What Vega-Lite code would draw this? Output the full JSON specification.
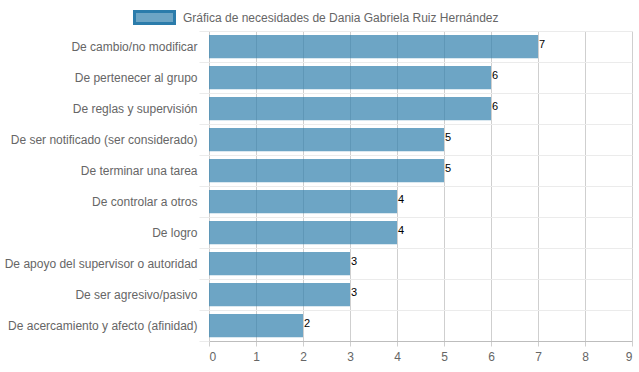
{
  "$schema": "https://vega.github.io/schema/vega-lite/v6.json",
  "width": 423,
  "height": 310,
  "autosize": {"type": "none"},
  "padding": {"left": 209, "top": 31, "right": 7, "bottom": 31},
  "background": "white",
  "config": {
    "font": "Liberation Sans",
    "view": {"stroke": null}
  },
  "data": {
    "values": [
      {"necesidad": "De cambio/no modificar", "valor": 7, "serie": "Gráfica de necesidades de Dania Gabriela Ruiz Hernández"},
      {"necesidad": "De pertenecer al grupo", "valor": 6, "serie": "Gráfica de necesidades de Dania Gabriela Ruiz Hernández"},
      {"necesidad": "De reglas y supervisión", "valor": 6, "serie": "Gráfica de necesidades de Dania Gabriela Ruiz Hernández"},
      {"necesidad": "De ser notificado (ser considerado)", "valor": 5, "serie": "Gráfica de necesidades de Dania Gabriela Ruiz Hernández"},
      {"necesidad": "De terminar una tarea", "valor": 5, "serie": "Gráfica de necesidades de Dania Gabriela Ruiz Hernández"},
      {"necesidad": "De controlar a otros", "valor": 4, "serie": "Gráfica de necesidades de Dania Gabriela Ruiz Hernández"},
      {"necesidad": "De logro", "valor": 4, "serie": "Gráfica de necesidades de Dania Gabriela Ruiz Hernández"},
      {"necesidad": "De apoyo del supervisor o autoridad", "valor": 3, "serie": "Gráfica de necesidades de Dania Gabriela Ruiz Hernández"},
      {"necesidad": "De ser agresivo/pasivo", "valor": 3, "serie": "Gráfica de necesidades de Dania Gabriela Ruiz Hernández"},
      {"necesidad": "De acercamiento y afecto (afinidad)", "valor": 2, "serie": "Gráfica de necesidades de Dania Gabriela Ruiz Hernández"}
    ]
  },
  "encoding": {
    "y": {
      "field": "necesidad",
      "type": "nominal",
      "sort": null,
      "scale": {"paddingInner": 0, "paddingOuter": 0},
      "axis": {
        "title": null,
        "grid": true,
        "gridColor": "#ebebeb",
        "bandPosition": 0,
        "domain": false,
        "ticks": true,
        "tickSize": 10,
        "tickColor": "#ebebeb",
        "tickBand": "extent",
        "labelFontSize": 12,
        "labelColor": "#666666",
        "labelPadding": 2,
        "labelLimit": 220
      }
    }
  },
  "layer": [
    {
      "mark": {"type": "bar", "height": {"band": 0.75}, "fillOpacity": 0.7},
      "encoding": {
        "x": {
          "field": "valor",
          "type": "quantitative",
          "scale": {"domain": [0, 9], "nice": false},
          "axis": {
            "title": null,
            "values": [0, 1, 2, 3, 4, 5, 6, 7, 8, 9],
            "labelOverlap": false,
            "format": "d",
            "grid": true,
            "gridColor": "#cfcfcf",
            "domainColor": "#bdbdbd",
            "tickColor": "#cfcfcf",
            "tickSize": 5,
            "labelFontSize": 12,
            "labelColor": "#666666",
            "labelPadding": 5
          }
        },
        "color": {
          "field": "serie",
          "type": "nominal",
          "scale": {"range": ["#2f7fad"]},
          "legend": {
            "title": null,
            "orient": "none",
            "legendX": -76,
            "legendY": -35,
            "padding": 0,
            "symbolType": "M-1,-0.3L1,-0.3L1,0.3L-1,0.3Z",
            "symbolSize": 1600,
            "symbolStrokeWidth": 3,
            "labelFontSize": 12,
            "labelColor": "#666666",
            "labelOffset": 7,
            "labelLimit": 500,
            "encode": {
              "symbols": {
                "update": {
                  "stroke": {"value": "#2b7cab"},
                  "strokeWidth": {"value": 3},
                  "strokeOpacity": {"value": 1},
                  "fillOpacity": {"value": 0.7}
                }
              }
            }
          }
        }
      }
    },
    {
      "mark": {"type": "text", "align": "left", "baseline": "middle", "dx": 1, "dy": -2, "fontSize": 11, "color": "black"},
      "encoding": {
        "x": {"field": "valor", "type": "quantitative"},
        "text": {"field": "valor", "type": "quantitative"}
      }
    }
  ]
}
